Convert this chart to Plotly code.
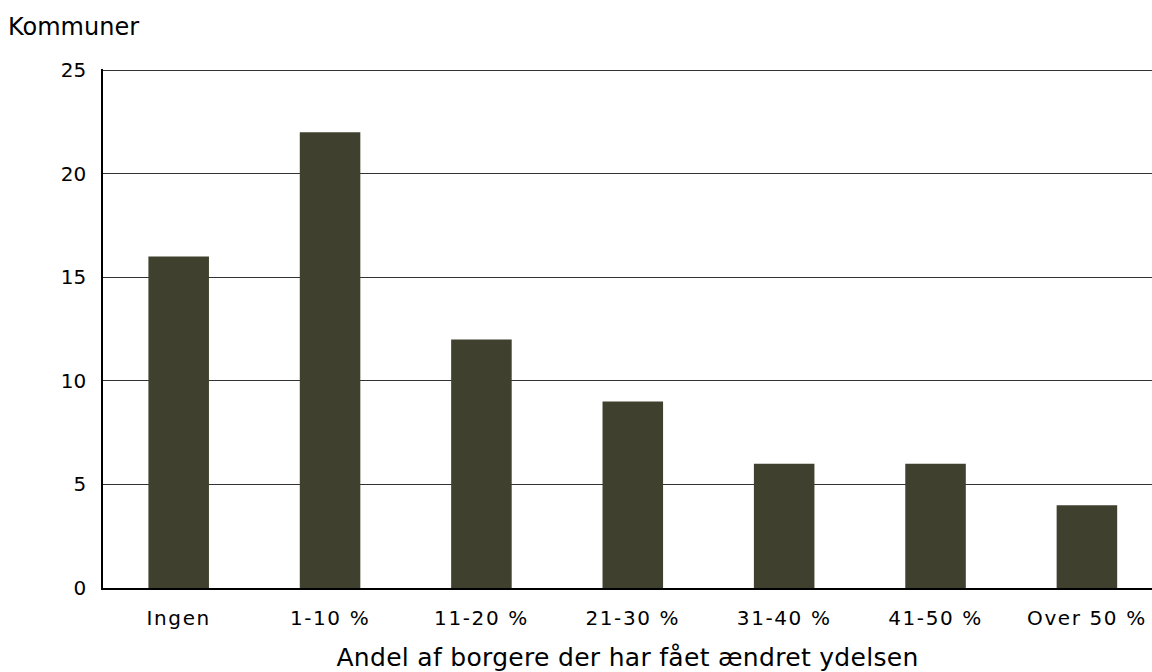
import plotly.graph_objects as go

categories = ["Ingen", "1-10 %", "11-20 %", "21-30 %", "31-40 %", "41-50 %", "Over 50 %"]
values = [16, 22, 12, 9, 6, 6, 4]
y_ticks = [0, 5, 10, 15, 20, 25]

FONT = "Verdana, DejaVu Sans, sans-serif"

fig = go.Figure(go.Bar(
    x=categories, y=values,
    marker=dict(color="#40402f", line=dict(width=0)),
    width=0.4,
))

fig.update_layout(
    width=1152, height=672,
    margin=dict(l=103, r=0, t=69, b=84),
    paper_bgcolor="white", plot_bgcolor="white",
    font=dict(family=FONT, size=20, color="#000000"),
    showlegend=False,
    xaxis=dict(
        range=[-0.5, 6.43],
        showline=True, linecolor="#000000", linewidth=1.5,
        showgrid=False, ticks="", ticklabelstandoff=11,
        tickfont=dict(size=20),
        title=dict(text="Andel af borgere der har fået ændret ydelsen",
                   font=dict(size=25), standoff=22),
    ),
    yaxis=dict(
        range=[0, 25.05], tickvals=y_ticks,
        showline=True, linecolor="#000000", linewidth=1.5,
        showgrid=True, gridcolor="#333333", gridwidth=1,
        zeroline=False, ticks="", ticklabelstandoff=11,
        tickfont=dict(size=20),
    ),
    annotations=[dict(
        text="Kommuner", xref="paper", yref="paper",
        x=-0.0925, y=1.051, xanchor="left", yanchor="bottom",
        showarrow=False, font=dict(size=24),
    )],
)

post = """
document.body.style.margin='0';
document.documentElement.style.overflow='hidden';
var st=document.createElement('style');
st.textContent='.xtick text{letter-spacing:1.6px;} .g-xtitle text{letter-spacing:0.3px;}';
document.head.appendChild(st);
"""

fig.write_html("out.html", post_script=post, config={"displayModeBar": False})
